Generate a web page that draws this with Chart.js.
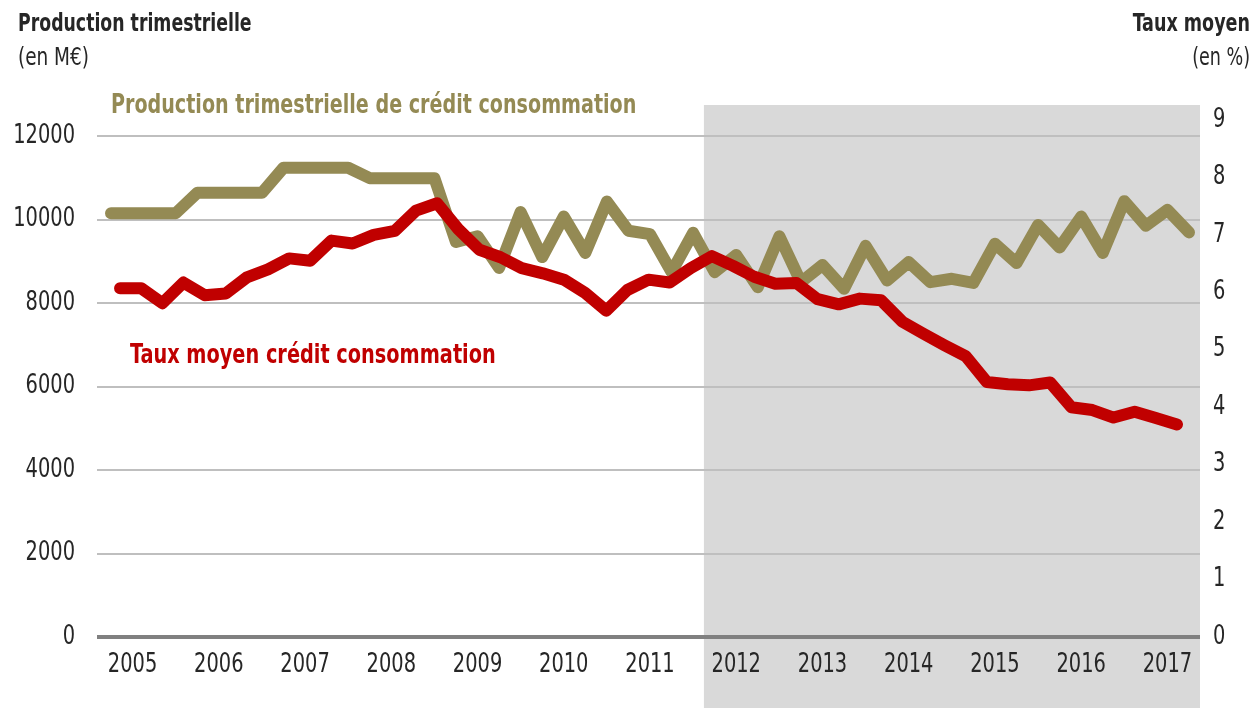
<!DOCTYPE html>
<html><head><meta charset="utf-8">
<script src="https://cdn.jsdelivr.net/npm/chart.js@4.4.0/dist/chart.umd.min.js"></script>
<style>html,body{margin:0;padding:0;background:#fff;}#wrap{width:1253px;height:708px;position:relative;}canvas{display:block;}</style>
</head><body><div id="wrap"><canvas id="c" width="1253" height="708"></canvas></div>
<script>
// ---- data ----
const years = ['2005','2006','2007','2008','2009','2010','2011','2012','2013','2014','2015','2016','2017'];
const quarters = [];
for (const y of years) for (const q of ['T1','T2','T3','T4']) quarters.push(y + q);
quarters.length = 51; // 2005T1 .. 2017T3

// Production trimestrielle de crédit consommation (M€)
const production = [
  10150,10150,10150,10150, 10640,10640,10640,10640, 11240,11240,11240,11240, 10990,10990,10990,10990,
  9460,9600,8840,10180, 9100,10070,9200,10430, 9730,9650,8740,9680,
  8740,9150,8380,9600, 8500,8910,8340,9370, 8540,8980,8500,8580,
  8480,9420,8960,9870, 9330,10070,9200,10440, 9850,10230,9690
];
// Taux moyen crédit consommation (%)
const taux = [
  6.07,6.07,5.81,6.17, 5.95,5.98,6.26,6.40, 6.59,6.55,6.90,6.85, 7.00,7.07,7.42,7.55,
  7.10,6.74,6.61,6.42, 6.33,6.22,5.99,5.68, 6.04,6.22,6.17,6.42,
  6.63,6.46,6.27,6.15, 6.16,5.88,5.79,5.89, 5.86,5.49,5.28,5.08,
  4.89,4.44,4.40,4.38, 4.43,4.00,3.95,3.82, 3.92,3.81,3.70
];
const leftTicks = [0,2000,4000,6000,8000,10000,12000];
const rightTicks = [0,1,2,3,4,5,6,7,8,9];
const yearTickIdx = years.map((y,k)=>1+4*k);
const shadeStartIdx = 27.5; // from 2012T1

const FONT = "'DejaVu Sans Condensed','DejaVu Sans',sans-serif";
const GOLD = '#948A54', RED = '#C00000', TXT = '#262626';

function txt(ctx, s, x, y, font, color, align, sx){
  ctx.save();
  ctx.font = font; ctx.fillStyle = color; ctx.textAlign = align; ctx.textBaseline = 'middle';
  ctx.translate(x, y); ctx.scale(sx, 1);
  ctx.fillText(s, 0, 0);
  ctx.restore();
}

const deco = {
  id:'deco',
  beforeDraw(chart){
    const {ctx, chartArea, scales} = chart;
    const x0 = scales.x.getPixelForValue(shadeStartIdx);
    ctx.save(); ctx.fillStyle = '#D9D9D9';
    ctx.fillRect(x0, chartArea.top, chartArea.right - x0, chart.height - chartArea.top);
    ctx.restore();
  },
  afterDraw(chart){
    const {ctx, chartArea, scales} = chart;
    const tf = '26px ' + FONT, SX = 0.83;
    // tick labels, placed through the chart's scales
    scales.y.ticks.forEach(t => txt(ctx, String(t.value), chartArea.left - 22, scales.y.getPixelForValue(t.value), tf, TXT, 'right', SX));
    scales.y1.ticks.forEach(t => txt(ctx, String(t.value), chartArea.right + 13, scales.y1.getPixelForValue(t.value), tf, TXT, 'left', SX));
    scales.x.ticks.forEach(t => txt(ctx, years[(t.value-1)/4], scales.x.getPixelForValue(t.value), chartArea.bottom + 28, tf, TXT, 'center', SX));
    // titles
    txt(ctx, 'Production trimestrielle', 18, 24, 'bold 25px ' + FONT, TXT, 'left', 0.77);
    txt(ctx, '(en M€)', 18, 58, '25px ' + FONT, TXT, 'left', 0.82);
    txt(ctx, 'Taux moyen', 1250, 24, 'bold 25px ' + FONT, TXT, 'right', 0.78);
    txt(ctx, '(en %)', 1250, 58, '25px ' + FONT, TXT, 'right', 0.78);
    // series labels
    txt(ctx, 'Production trimestrielle de crédit consommation', 111, 106, 'bold 27px ' + FONT, GOLD, 'left', 0.787);
    txt(ctx, 'Taux moyen crédit consommation', 130, 356, 'bold 27px ' + FONT, RED, 'left', 0.795);
  }
};

new Chart(document.getElementById('c'), {
  type:'line',
  data:{
    datasets:[
      { label:'Taux moyen crédit consommation', data: taux.map((v,i)=>({x:i,y:v})),
        xAxisID:'x2', yAxisID:'y1', borderColor:RED, borderWidth:12, pointRadius:0,
        borderCapStyle:'round', borderJoinStyle:'round', tension:0 },
      { label:'Production trimestrielle de crédit consommation', data: production.map((v,i)=>({x:i,y:v})),
        xAxisID:'x', yAxisID:'y', borderColor:GOLD, borderWidth:12, pointRadius:0,
        borderCapStyle:'round', borderJoinStyle:'round', tension:0 }
    ]
  },
  options:{
    responsive:false, animation:false, devicePixelRatio:1,
    layout:{padding:{left:0,right:0,top:105,bottom:0}},
    plugins:{legend:{display:false}, tooltip:{enabled:false}},
    scales:{
      x:{ type:'linear', position:'bottom', min:-0.65, max:50.51,
          afterBuildTicks(s){ s.ticks = yearTickIdx.map(v=>({value:v})); },
          afterFit(s){ s.height = 71; },
          grid:{display:false, drawTicks:false}, border:{display:false},
          ticks:{ display:false } },
      x2:{ type:'linear', display:false, min:-1.09, max:51.09 },
      y:{ position:'left', min:0, max:12743,
          afterBuildTicks(s){ s.ticks = leftTicks.map(v=>({value:v})); },
          afterFit(s){ s.width = 97; },
          grid:{ drawTicks:false, color:(c)=>c.tick && c.tick.value===0 ? '#808080' : '#BFBFBF',
                 lineWidth:(c)=>c.tick && c.tick.value===0 ? 4 : 2 },
          border:{display:false},
          ticks:{ display:false } },
      y1:{ position:'right', min:0, max:9.26,
          afterBuildTicks(s){ s.ticks = rightTicks.map(v=>({value:v})); },
          afterFit(s){ s.width = 53; },
          grid:{display:false, drawTicks:false}, border:{display:false},
          ticks:{ display:false } }
    }
  },
  plugins:[deco]
});
</script></body></html>
